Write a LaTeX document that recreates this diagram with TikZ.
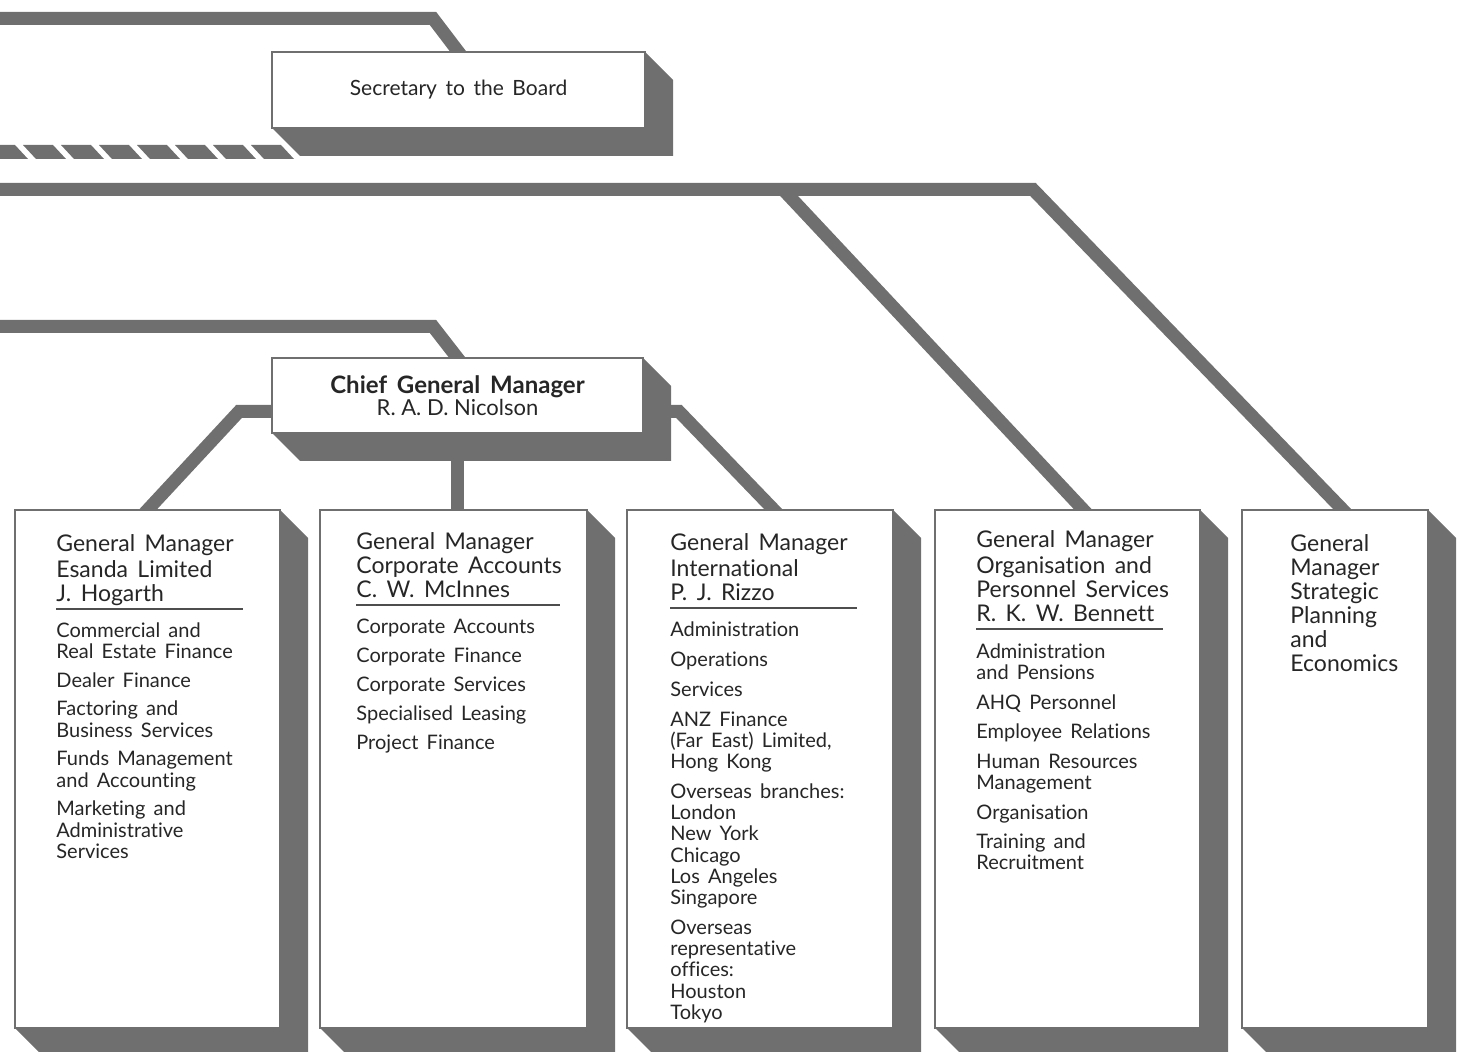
\documentclass[tikz,border=0pt]{standalone}
\usepackage{fontspec}
\setmainfont[WordSpace=1.6,Ligatures=NoCommon]{Lato}
\newfontfamily\namefont[Ligatures=NoCommon]{Lato}
\usetikzlibrary{positioning,backgrounds}

\definecolor{slate}{HTML}{6F6F6F}
\definecolor{ink}{HTML}{262626}

% grey side and bottom faces behind a box
\newcommand{\boxslab}[1]{%
  \fill[slate] (#1.north east) -- ++(14pt,-14pt) |- ([shift={(14pt,-14pt)}]#1.south west)
    -- (#1.south west) -- cycle;}

\begin{document}
\begin{tikzpicture}[x=0.5pt,y=-0.5pt,
    band/.style={draw=slate,line width=6.5pt,line join=miter},
    face/.style={draw=slate,line width=1.3pt,fill=white,inner sep=0pt,outer sep=0pt,anchor=north west},
    unit/.style={face,minimum width=#1,minimum height=259pt},
    head/.style={inner sep=0pt,align=left,text=ink,font=\fontsize{11.5}{12}\selectfont},
    items/.style={inner sep=0pt,align=left,text=ink,font=\fontsize{10}{10.6}\selectfont},
    rule/.style={draw=slate!70!black,line width=1pt}]

  \useasboundingbox (0,0) rectangle (1461,1052);

  \node[face,minimum width=186.5pt,minimum height=38pt,text=ink,font=\fontsize{10.5}{12}\selectfont]
    (secretary) at (272,52) {Secretary to the Board};
  \node[face,minimum width=185.5pt,minimum height=37.5pt,text=ink,align=center,font=\namefont\fontsize{11}{11.2}\selectfont]
    (cgm) at (272,358) {{\fontsize{12}{11.2}\selectfont\bfseries Chief\, General\, Manager}\\R. A. D. Nicolson};

  \node[unit=132.5pt] (esanda) at (15,510) {};
  \node[unit=133.5pt] (corporate) at (320,510) {};
  \node[unit=133pt] (international) at (627,510) {};
  \node[unit=132.5pt] (personnel) at (935,510) {};
  \node[unit=93pt] (strategic) at (1242,510) {};

  % Esanda
  \node[head,below right=12pt and 20.5pt of esanda.north west] (esandahead)
    {\strut General Manager\\Esanda Limited\\J. Hogarth\strut};
  \node[items,below=6.4pt of esandahead.south west,anchor=north west] (esandalist)
    {\strut Commercial and\\Real Estate Finance\\[3.8pt]Dealer Finance\\[3.8pt]Factoring and\\Business Services\\[3.8pt]%
     Funds Management\\and Accounting\\[3.8pt]Marketing and\\Administrative\\Services};
  \draw[rule] (esandahead.south west) -- ++(93.5pt,0);

  % Corporate Accounts
  \node[head,below right=11pt and 18pt of corporate.north west] (corporatehead)
    {\strut General Manager\\Corporate Accounts\\C. W. McInnes\strut};
  \node[items,below=6.6pt of corporatehead.south west,anchor=north west] (corporatelist)
    {\strut Corporate Accounts\\[3.9pt]Corporate Finance\\[3.9pt]Corporate Services\\[3.9pt]Specialised Leasing\\[3.9pt]Project Finance};
  \draw[rule] (corporatehead.south west) -- ++(102pt,0);

  % International
  \node[head,below right=11.5pt and 21.5pt of international.north west] (internationalhead)
    {\strut General Manager\\International\\P. J. Rizzo\strut};
  \node[items,below=6.4pt of internationalhead.south west,anchor=north west] (internationallist)
    {\strut Administration\\[4.4pt]Operations\\[4.4pt]Services\\[4.4pt]ANZ Finance\\(Far East) Limited,\\Hong Kong\\[4.4pt]%
     Overseas branches:\\London\\New York\\Chicago\\Los Angeles\\Singapore\\[4.4pt]%
     Overseas\\representative\\offices:\\Houston\\Tokyo};
  \draw[rule] (internationalhead.south west) -- ++(93.5pt,0);

  % Organisation and Personnel
  \node[head,below right=10pt and 20.5pt of personnel.north west] (personnelhead)
    {\strut General Manager\\Organisation and\\Personnel Services\\R. K. W. Bennett\strut};
  \node[items,below=7pt of personnelhead.south west,anchor=north west] (personnellist)
    {\strut Administration\\and Pensions\\[4.2pt]AHQ Personnel\\[4.2pt]Employee Relations\\[4.2pt]%
     Human Resources\\Management\\[4.2pt]Organisation\\[4.2pt]Training and\\Recruitment};
  \draw[rule] (personnelhead.south west) -- ++(93.5pt,0);

  % Strategic Planning
  \node[head,below right=12.1pt and 24pt of strategic.north west] (strategichead)
    {\strut General\\Manager\\Strategic\\Planning\\and\\Economics};

  \begin{scope}[on background layer]
    \coordinate (boardtop) at (-10,18.5);
    \coordinate (boardmid) at (-10,189.5);
    \coordinate (boardlow) at (-10,326.5);
    \coordinate (split) at (783,189.5);

    \draw[band,shorten >=-8pt] (boardtop) -- (433,18.5) -- (secretary.north);
    \draw[band,shorten >=-8pt] (boardmid) -- (1033,189.5) -- ([xshift=4pt]strategic.north);
    \draw[band,shorten >=-8pt] (split) -- ([xshift=8pt]personnel.north);
    \draw[band,shorten >=-8pt] (boardlow) -- (433,326.5) -- (cgm.north);
    \draw[band,shorten >=-8pt] ([yshift=-8pt]cgm.west) -- ++(-33,0) -- (esanda.north);
    \draw[band] (cgm.south) -- (cgm.south |- corporate.north);
    \draw[band,shorten >=-8pt] ([yshift=-8pt]cgm.east) -- ++(36,0) -- ([xshift=7pt]international.north);

    % broken line to the secretary
    \foreach \x in {-15,23,...,251}
      \fill[slate] (\x,145) -- ++(30,0) -- ++(13,14) -- ++(-30,0) -- cycle;

    \foreach \n in {secretary,cgm,esanda,corporate,international,personnel,strategic}
      {\boxslab{\n}}
  \end{scope}
\end{tikzpicture}
\end{document}
